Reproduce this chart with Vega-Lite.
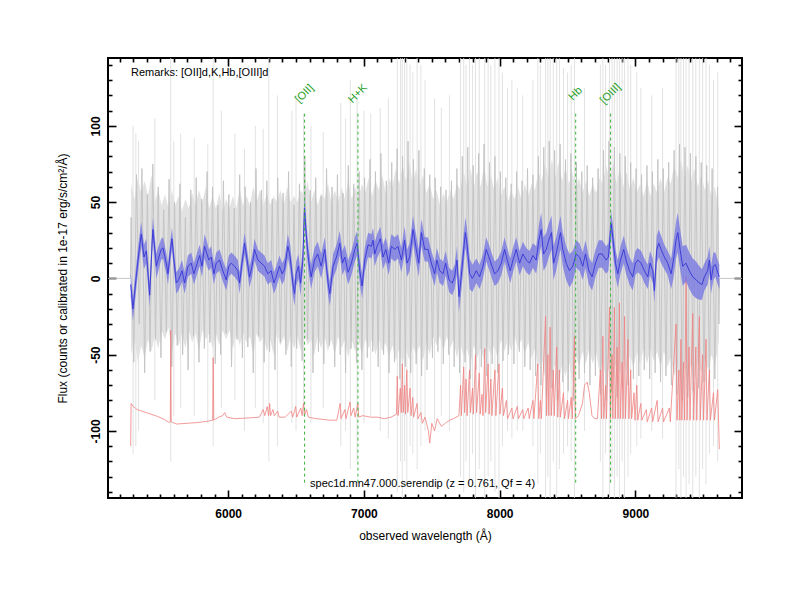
{
  "$schema": "https://vega.github.io/schema/vega-lite/v6.json",
  "width": 634,
  "height": 440,
  "autosize": "none",
  "padding": {"left": 108, "top": 58, "right": 58, "bottom": 102},
  "background": "white",
  "config": {
    "font": "Liberation Sans",
    "view": {"stroke": "#000000", "strokeWidth": 2},
    "axis": {"grid": false, "domain": false}
  },
  "datasets": {
    "raw": [
      {"w":5115,"f":0},{"w":5280,"f":0},
      {"w":5285,"f":40},{"w":5305,"f":-55},{"w":5325,"f":68},{"w":5345,"f":-30},{"w":5365,"f":72},{"w":5385,"f":-62},{"w":5405,"f":55},{"w":5425,"f":-48},{"w":5445,"f":75},{"w":5465,"f":-40},{"w":5485,"f":60},
      {"w":5505,"f":-52},{"w":5525,"f":45},{"w":5545,"f":-35},{"w":5565,"f":65},{"w":5585,"f":-58},{"w":5605,"f":50},{"w":5625,"f":-44},{"w":5645,"f":62},{"w":5665,"f":-50},{"w":5685,"f":40},{"w":5705,"f":-60},{"w":5725,"f":58},{"w":5745,"f":-38},{"w":5765,"f":66},{"w":5785,"f":-55},{"w":5805,"f":52},{"w":5825,"f":-46},{"w":5845,"f":70},{"w":5865,"f":-42},{"w":5885,"f":60},{"w":5905,"f":-56},{"w":5925,"f":48},{"w":5945,"f":-50},{"w":5965,"f":64},{"w":5985,"f":-36},
      {"w":6005,"f":55},{"w":6025,"f":-58},{"w":6045,"f":46},{"w":6065,"f":-40},{"w":6085,"f":68},{"w":6105,"f":-52},{"w":6125,"f":60},{"w":6145,"f":-45},{"w":6165,"f":50},{"w":6185,"f":-62},{"w":6205,"f":72},{"w":6225,"f":-38},{"w":6245,"f":58},{"w":6265,"f":-55},{"w":6285,"f":64},{"w":6305,"f":-48},{"w":6325,"f":52},{"w":6345,"f":-60},{"w":6365,"f":66},{"w":6385,"f":-42},{"w":6405,"f":56},{"w":6425,"f":-50},{"w":6445,"f":70},{"w":6465,"f":-58},{"w":6485,"f":48},
      {"w":6505,"f":-46},{"w":6525,"f":62},{"w":6545,"f":-54},{"w":6565,"f":80},{"w":6585,"f":-40},{"w":6605,"f":58},{"w":6625,"f":-62},{"w":6645,"f":66},{"w":6665,"f":-48},{"w":6685,"f":54},{"w":6705,"f":-56},{"w":6725,"f":72},{"w":6745,"f":-44},{"w":6765,"f":60},{"w":6785,"f":-58},{"w":6805,"f":68},{"w":6825,"f":-50},{"w":6845,"f":56},{"w":6865,"f":-62},{"w":6885,"f":74},{"w":6905,"f":-46},{"w":6925,"f":62},{"w":6945,"f":-55},{"w":6965,"f":70},{"w":6985,"f":-60},
      {"w":7005,"f":66},{"w":7025,"f":-52},{"w":7045,"f":78},{"w":7065,"f":-48},{"w":7085,"f":70},{"w":7105,"f":-58},{"w":7125,"f":82},{"w":7145,"f":-50},{"w":7165,"f":64},{"w":7185,"f":-62},{"w":7205,"f":76},{"w":7225,"f":-55},{"w":7245,"f":85},{"w":7265,"f":-66},{"w":7285,"f":80},{"w":7305,"f":-58},{"w":7325,"f":90},{"w":7345,"f":-62},{"w":7365,"f":78},{"w":7385,"f":-56},{"w":7405,"f":84},{"w":7425,"f":-64},{"w":7445,"f":72},{"w":7465,"f":-60},{"w":7485,"f":68},
      {"w":7505,"f":-52},{"w":7525,"f":66},{"w":7545,"f":-48},{"w":7565,"f":60},{"w":7585,"f":-56},{"w":7605,"f":58},{"w":7625,"f":-50},{"w":7645,"f":64},{"w":7665,"f":-58},{"w":7685,"f":72},{"w":7705,"f":-62},{"w":7725,"f":80},{"w":7745,"f":-55},{"w":7765,"f":86},{"w":7785,"f":-66},{"w":7805,"f":74},{"w":7825,"f":-60},{"w":7845,"f":82},{"w":7865,"f":-58},{"w":7885,"f":88},{"w":7905,"f":-64},{"w":7925,"f":76},{"w":7945,"f":-56},{"w":7965,"f":80},{"w":7985,"f":-62},
      {"w":8005,"f":70},{"w":8025,"f":-54},{"w":8045,"f":66},{"w":8065,"f":-50},{"w":8085,"f":62},{"w":8105,"f":-56},{"w":8125,"f":70},{"w":8145,"f":-48},{"w":8165,"f":64},{"w":8185,"f":-58},{"w":8205,"f":72},{"w":8225,"f":-60},{"w":8245,"f":68},{"w":8265,"f":-64},{"w":8285,"f":80},{"w":8305,"f":-70},{"w":8325,"f":86},{"w":8345,"f":-78},{"w":8365,"f":90},{"w":8385,"f":-72},{"w":8405,"f":84},{"w":8425,"f":-80},{"w":8445,"f":88},{"w":8465,"f":-68},{"w":8485,"f":78},
      {"w":8505,"f":-74},{"w":8525,"f":82},{"w":8545,"f":-80},{"w":8565,"f":76},{"w":8585,"f":-66},{"w":8605,"f":70},{"w":8625,"f":-62},{"w":8645,"f":74},{"w":8665,"f":-70},{"w":8685,"f":66},{"w":8705,"f":-64},{"w":8725,"f":72},{"w":8745,"f":-76},{"w":8765,"f":84},{"w":8785,"f":-80},{"w":8805,"f":90},{"w":8825,"f":-74},{"w":8845,"f":86},{"w":8865,"f":-78},{"w":8885,"f":82},{"w":8905,"f":-72},{"w":8925,"f":80},{"w":8945,"f":-70},{"w":8965,"f":76},{"w":8985,"f":-66},
      {"w":9005,"f":72},{"w":9025,"f":-64},{"w":9045,"f":68},{"w":9065,"f":-60},{"w":9085,"f":74},{"w":9105,"f":-66},{"w":9125,"f":70},{"w":9145,"f":-62},{"w":9165,"f":78},{"w":9185,"f":-68},{"w":9205,"f":72},{"w":9225,"f":-64},{"w":9245,"f":76},{"w":9265,"f":-70},{"w":9285,"f":84},{"w":9305,"f":-76},{"w":9325,"f":88},{"w":9345,"f":-80},{"w":9365,"f":86},{"w":9385,"f":-78},{"w":9405,"f":82},{"w":9425,"f":-74},{"w":9445,"f":80},{"w":9465,"f":-72},{"w":9485,"f":76},{"w":9505,"f":-68},{"w":9525,"f":74},{"w":9545,"f":-70},{"w":9565,"f":72},{"w":9585,"f":-66},{"w":9605,"f":60},{"w":9615,"f":-30},
      {"w":9620,"f":0},{"w":9785,"f":0}
    ],
    "core": [
      {"w":5285,"lo":-50,"hi":62},{"w":5310,"lo":-40,"hi":52},{"w":5335,"lo":-55,"hi":66},{"w":5360,"lo":-44,"hi":56},{"w":5385,"lo":-52,"hi":64},{"w":5410,"lo":-40,"hi":54},{"w":5435,"lo":-48,"hi":68},{"w":5460,"lo":-38,"hi":50},{"w":5485,"lo":-46,"hi":58},{"w":5510,"lo":-34,"hi":48},{"w":5535,"lo":-40,"hi":55},{"w":5560,"lo":-32,"hi":46},{"w":5585,"lo":-48,"hi":58},{"w":5610,"lo":-36,"hi":48},{"w":5635,"lo":-44,"hi":54},{"w":5660,"lo":-36,"hi":44},{"w":5685,"lo":-46,"hi":52},{"w":5710,"lo":-34,"hi":46},{"w":5735,"lo":-42,"hi":56},{"w":5760,"lo":-36,"hi":48},{"w":5785,"lo":-48,"hi":58},{"w":5810,"lo":-34,"hi":50},{"w":5835,"lo":-40,"hi":60},{"w":5860,"lo":-36,"hi":46},{"w":5885,"lo":-46,"hi":54},{"w":5910,"lo":-36,"hi":46},{"w":5935,"lo":-44,"hi":56},{"w":5960,"lo":-34,"hi":44},{"w":5985,"lo":-40,"hi":52},
      {"w":6010,"lo":-34,"hi":46},{"w":6035,"lo":-46,"hi":54},{"w":6060,"lo":-36,"hi":46},{"w":6085,"lo":-44,"hi":58},{"w":6110,"lo":-36,"hi":48},{"w":6135,"lo":-42,"hi":54},{"w":6160,"lo":-38,"hi":48},{"w":6185,"lo":-50,"hi":60},{"w":6210,"lo":-36,"hi":50},{"w":6235,"lo":-42,"hi":58},{"w":6260,"lo":-38,"hi":48},{"w":6285,"lo":-48,"hi":56},{"w":6310,"lo":-40,"hi":48},{"w":6335,"lo":-50,"hi":54},{"w":6360,"lo":-36,"hi":50},{"w":6385,"lo":-44,"hi":58},{"w":6410,"lo":-38,"hi":48},{"w":6435,"lo":-48,"hi":60},{"w":6460,"lo":-38,"hi":50},{"w":6485,"lo":-46,"hi":54},{"w":6510,"lo":-38,"hi":50},{"w":6535,"lo":-48,"hi":58},{"w":6560,"lo":-36,"hi":54},{"w":6585,"lo":-44,"hi":64},{"w":6610,"lo":-40,"hi":50},{"w":6635,"lo":-50,"hi":58},{"w":6660,"lo":-38,"hi":48},{"w":6685,"lo":-46,"hi":56},{"w":6710,"lo":-38,"hi":52},{"w":6735,"lo":-48,"hi":62},{"w":6760,"lo":-40,"hi":50},{"w":6785,"lo":-50,"hi":58},{"w":6810,"lo":-38,"hi":50},{"w":6835,"lo":-46,"hi":60},{"w":6860,"lo":-40,"hi":52},{"w":6885,"lo":-52,"hi":64},{"w":6910,"lo":-40,"hi":52},{"w":6935,"lo":-48,"hi":60},{"w":6960,"lo":-40,"hi":52},{"w":6985,"lo":-50,"hi":62},
      {"w":7010,"lo":-40,"hi":56},{"w":7035,"lo":-46,"hi":66},{"w":7060,"lo":-40,"hi":54},{"w":7085,"lo":-50,"hi":64},{"w":7110,"lo":-40,"hi":58},{"w":7135,"lo":-48,"hi":68},{"w":7160,"lo":-42,"hi":56},{"w":7185,"lo":-52,"hi":66},{"w":7210,"lo":-44,"hi":60},{"w":7235,"lo":-54,"hi":72},{"w":7260,"lo":-46,"hi":62},{"w":7285,"lo":-56,"hi":74},{"w":7310,"lo":-46,"hi":64},{"w":7335,"lo":-54,"hi":76},{"w":7360,"lo":-44,"hi":62},{"w":7385,"lo":-50,"hi":72},{"w":7410,"lo":-44,"hi":60},{"w":7435,"lo":-54,"hi":68},{"w":7460,"lo":-42,"hi":56},{"w":7485,"lo":-50,"hi":62},{"w":7510,"lo":-38,"hi":52},{"w":7535,"lo":-44,"hi":58},{"w":7560,"lo":-38,"hi":48},{"w":7585,"lo":-48,"hi":56},{"w":7610,"lo":-38,"hi":50},{"w":7635,"lo":-46,"hi":58},{"w":7660,"lo":-40,"hi":52},{"w":7685,"lo":-52,"hi":62},{"w":7710,"lo":-42,"hi":58},{"w":7735,"lo":-52,"hi":70},{"w":7760,"lo":-46,"hi":60},{"w":7785,"lo":-56,"hi":72},{"w":7810,"lo":-44,"hi":60},{"w":7835,"lo":-52,"hi":70},{"w":7860,"lo":-46,"hi":60},{"w":7885,"lo":-54,"hi":74},{"w":7910,"lo":-44,"hi":60},{"w":7935,"lo":-50,"hi":68},{"w":7960,"lo":-44,"hi":58},{"w":7985,"lo":-52,"hi":66},
      {"w":8010,"lo":-40,"hi":54},{"w":8035,"lo":-48,"hi":60},{"w":8060,"lo":-40,"hi":50},{"w":8085,"lo":-48,"hi":58},{"w":8110,"lo":-38,"hi":52},{"w":8135,"lo":-46,"hi":60},{"w":8160,"lo":-40,"hi":52},{"w":8185,"lo":-50,"hi":62},{"w":8210,"lo":-42,"hi":54},{"w":8235,"lo":-52,"hi":62},{"w":8260,"lo":-46,"hi":58},{"w":8285,"lo":-58,"hi":70},{"w":8310,"lo":-52,"hi":64},{"w":8335,"lo":-66,"hi":76},{"w":8360,"lo":-54,"hi":66},{"w":8385,"lo":-64,"hi":78},{"w":8410,"lo":-56,"hi":66},{"w":8435,"lo":-70,"hi":76},{"w":8460,"lo":-56,"hi":64},{"w":8485,"lo":-64,"hi":72},{"w":8510,"lo":-54,"hi":62},{"w":8535,"lo":-68,"hi":70},{"w":8560,"lo":-50,"hi":58},{"w":8585,"lo":-58,"hi":66},{"w":8610,"lo":-48,"hi":56},{"w":8635,"lo":-56,"hi":64},{"w":8660,"lo":-46,"hi":54},{"w":8685,"lo":-56,"hi":62},{"w":8710,"lo":-48,"hi":56},{"w":8735,"lo":-62,"hi":66},{"w":8760,"lo":-54,"hi":62},{"w":8785,"lo":-68,"hi":74},{"w":8810,"lo":-56,"hi":64},{"w":8835,"lo":-66,"hi":76},{"w":8860,"lo":-54,"hi":62},{"w":8885,"lo":-64,"hi":72},{"w":8910,"lo":-52,"hi":60},{"w":8935,"lo":-62,"hi":70},{"w":8960,"lo":-50,"hi":58},{"w":8985,"lo":-58,"hi":66},
      {"w":9010,"lo":-48,"hi":56},{"w":9035,"lo":-56,"hi":62},{"w":9060,"lo":-46,"hi":54},{"w":9085,"lo":-56,"hi":64},{"w":9110,"lo":-46,"hi":54},{"w":9135,"lo":-54,"hi":62},{"w":9160,"lo":-48,"hi":56},{"w":9185,"lo":-58,"hi":66},{"w":9210,"lo":-48,"hi":56},{"w":9235,"lo":-58,"hi":66},{"w":9260,"lo":-52,"hi":62},{"w":9285,"lo":-64,"hi":74},{"w":9310,"lo":-58,"hi":66},{"w":9335,"lo":-70,"hi":78},{"w":9360,"lo":-58,"hi":66},{"w":9385,"lo":-68,"hi":74},{"w":9410,"lo":-56,"hi":64},{"w":9435,"lo":-66,"hi":72},{"w":9460,"lo":-54,"hi":60},{"w":9485,"lo":-62,"hi":68},{"w":9510,"lo":-52,"hi":58},{"w":9535,"lo":-60,"hi":64},{"w":9560,"lo":-50,"hi":54},{"w":9585,"lo":-58,"hi":60},{"w":9615,"lo":-40,"hi":45}
    ],
    "spikes": [
      {"w":5300,"lo":-115,"hi":100},{"w":5320,"lo":-110,"hi":95},{"w":5340,"lo":-100,"hi":90},{"w":5460,"lo":-80,"hi":105},{"w":5577,"lo":-120,"hi":150},{"w":5600,"lo":-90,"hi":90},{"w":5650,"lo":-85,"hi":95},{"w":5750,"lo":-90,"hi":92},{"w":5850,"lo":-95,"hi":88},{"w":5890,"lo":-110,"hi":150},{"w":5950,"lo":-85,"hi":110},
      {"w":6050,"lo":-80,"hi":95},{"w":6120,"lo":-100,"hi":85},{"w":6200,"lo":-85,"hi":100},{"w":6258,"lo":-95,"hi":98},{"w":6300,"lo":-120,"hi":150},{"w":6363,"lo":-110,"hi":120},{"w":6470,"lo":-95,"hi":110},{"w":6500,"lo":-100,"hi":120},{"w":6555,"lo":-90,"hi":108},{"w":6610,"lo":-95,"hi":100},{"w":6700,"lo":-85,"hi":96},{"w":6830,"lo":-110,"hi":115},{"w":6865,"lo":-100,"hi":105},{"w":6900,"lo":-125,"hi":130},{"w":6950,"lo":-120,"hi":118},
      {"w":7000,"lo":-95,"hi":110},{"w":7050,"lo":-90,"hi":108},{"w":7120,"lo":-100,"hi":112},{"w":7180,"lo":-105,"hi":118},{"w":7246,"lo":-140,"hi":150},{"w":7270,"lo":-120,"hi":150},{"w":7283,"lo":-144,"hi":150},{"w":7300,"lo":-120,"hi":150},{"w":7316,"lo":-135,"hi":150},{"w":7340,"lo":-110,"hi":140},{"w":7360,"lo":-115,"hi":135},{"w":7392,"lo":-125,"hi":150},{"w":7420,"lo":-110,"hi":140},{"w":7450,"lo":-100,"hi":130},{"w":7520,"lo":-95,"hi":118},{"w":7570,"lo":-90,"hi":112},{"w":7630,"lo":-100,"hi":120},
      {"w":7712,"lo":-130,"hi":150},{"w":7735,"lo":-140,"hi":150},{"w":7752,"lo":-120,"hi":140},{"w":7778,"lo":-135,"hi":150},{"w":7800,"lo":-115,"hi":140},{"w":7822,"lo":-144,"hi":150},{"w":7850,"lo":-125,"hi":150},{"w":7890,"lo":-144,"hi":150},{"w":7915,"lo":-130,"hi":150},{"w":7935,"lo":-120,"hi":140},{"w":7965,"lo":-140,"hi":150},{"w":7995,"lo":-144,"hi":150},
      {"w":8020,"lo":-110,"hi":135},{"w":8058,"lo":-100,"hi":125},{"w":8090,"lo":-105,"hi":130},{"w":8130,"lo":-100,"hi":125},{"w":8170,"lo":-100,"hi":120},{"w":8245,"lo":-110,"hi":130},{"w":8281,"lo":-135,"hi":150},{"w":8300,"lo":-115,"hi":140},{"w":8338,"lo":-144,"hi":150},{"w":8355,"lo":-130,"hi":150},{"w":8372,"lo":-144,"hi":150},{"w":8395,"lo":-120,"hi":150},{"w":8420,"lo":-144,"hi":150},{"w":8440,"lo":-125,"hi":145},{"w":8470,"lo":-115,"hi":138},{"w":8500,"lo":-110,"hi":135},{"w":8527,"lo":-120,"hi":140},{"w":8551,"lo":-144,"hi":150},{"w":8625,"lo":-100,"hi":125},
      {"w":8742,"lo":-120,"hi":140},{"w":8760,"lo":-144,"hi":150},{"w":8780,"lo":-115,"hi":140},{"w":8809,"lo":-144,"hi":150},{"w":8828,"lo":-130,"hi":150},{"w":8845,"lo":-144,"hi":150},{"w":8865,"lo":-130,"hi":150},{"w":8882,"lo":-144,"hi":150},{"w":8902,"lo":-120,"hi":150},{"w":8920,"lo":-144,"hi":150},{"w":8945,"lo":-130,"hi":145},{"w":8965,"lo":-115,"hi":140},
      {"w":9010,"lo":-110,"hi":135},{"w":9040,"lo":-105,"hi":125},{"w":9120,"lo":-100,"hi":120},{"w":9200,"lo":-105,"hi":125},{"w":9299,"lo":-144,"hi":150},{"w":9320,"lo":-125,"hi":150},{"w":9335,"lo":-144,"hi":150},{"w":9355,"lo":-130,"hi":150},{"w":9373,"lo":-144,"hi":150},{"w":9395,"lo":-135,"hi":150},{"w":9422,"lo":-144,"hi":150},{"w":9445,"lo":-130,"hi":150},{"w":9471,"lo":-144,"hi":150},{"w":9495,"lo":-125,"hi":145},{"w":9520,"lo":-135,"hi":150},{"w":9545,"lo":-115,"hi":140},{"w":9575,"lo":-110,"hi":130},{"w":9606,"lo":-120,"hi":135}
    ],
    "sky": [
      {"w":5282,"f":-110},{"w":5285,"f":-82},{"w":5300,"f":-84},{"w":5330,"f":-86},{"w":5380,"f":-87.5},{"w":5430,"f":-89},{"w":5480,"f":-90.5},{"w":5530,"f":-92.5},{"w":5565,"f":-94.5},{"w":5574,"f":-94},{"w":5577,"f":-34},{"w":5580,"f":-94},{"w":5620,"f":-95.5},{"w":5700,"f":-95},{"w":5780,"f":-94.5},{"w":5860,"f":-93.5},{"w":5886,"f":-93},{"w":5890,"f":-52},{"w":5894,"f":-93},{"w":5930,"f":-91},{"w":5960,"f":-90},{"w":5975,"f":-88},{"w":5990,"f":-91},
      {"w":6050,"f":-92},{"w":6150,"f":-91.5},{"w":6230,"f":-91},{"w":6258,"f":-86},{"w":6270,"f":-90},{"w":6288,"f":-84},{"w":6298,"f":-90},{"w":6306,"f":-82},{"w":6312,"f":-90},{"w":6330,"f":-86},{"w":6340,"f":-90},{"w":6365,"f":-87},{"w":6375,"f":-91},{"w":6420,"f":-91},{"w":6465,"f":-87},{"w":6475,"f":-91},{"w":6498,"f":-84},{"w":6505,"f":-91},{"w":6535,"f":-85},{"w":6545,"f":-90},{"w":6555,"f":-82},{"w":6565,"f":-89},{"w":6578,"f":-86},{"w":6590,"f":-91},{"w":6650,"f":-92},{"w":6750,"f":-93},{"w":6800,"f":-93},{"w":6825,"f":-82},{"w":6832,"f":-92},{"w":6860,"f":-86},{"w":6868,"f":-92},{"w":6898,"f":-81},{"w":6905,"f":-90},{"w":6925,"f":-85},{"w":6935,"f":-91},{"w":6955,"f":-82},{"w":6962,"f":-91},{"w":6990,"f":-90},
      {"w":7050,"f":-91},{"w":7100,"f":-91},{"w":7150,"f":-92},{"w":7200,"f":-91},{"w":7240,"f":-89},{"w":7246,"f":-64},{"w":7252,"f":-90},{"w":7268,"f":-72},{"w":7275,"f":-88},{"w":7283,"f":-56},{"w":7290,"f":-88},{"w":7300,"f":-70},{"w":7306,"f":-89},{"w":7316,"f":-60},{"w":7323,"f":-88},{"w":7340,"f":-72},{"w":7347,"f":-90},{"w":7360,"f":-78},{"w":7366,"f":-91},{"w":7392,"f":-82},{"w":7398,"f":-92},{"w":7420,"f":-88},{"w":7430,"f":-95},{"w":7450,"f":-91},{"w":7475,"f":-100},{"w":7485,"f":-108},{"w":7500,"f":-95},{"w":7520,"f":-100},{"w":7540,"f":-92},{"w":7570,"f":-97},{"w":7600,"f":-95},{"w":7630,"f":-93},{"w":7660,"f":-92},{"w":7700,"f":-90},
      {"w":7712,"f":-70},{"w":7718,"f":-90},{"w":7735,"f":-58},{"w":7742,"f":-88},{"w":7752,"f":-66},{"w":7760,"f":-90},{"w":7778,"f":-60},{"w":7785,"f":-88},{"w":7800,"f":-72},{"w":7806,"f":-89},{"w":7822,"f":-50},{"w":7830,"f":-88},{"w":7850,"f":-62},{"w":7856,"f":-89},{"w":7870,"f":-76},{"w":7877,"f":-90},{"w":7890,"f":-46},{"w":7897,"f":-88},{"w":7915,"f":-56},{"w":7922,"f":-89},{"w":7935,"f":-66},{"w":7943,"f":-90},{"w":7965,"f":-60},{"w":7972,"f":-90},{"w":7995,"f":-56},{"w":8002,"f":-89},{"w":8020,"f":-72},{"w":8028,"f":-90},{"w":8050,"f":-80},{"w":8058,"f":-92},{"w":8090,"f":-85},{"w":8098,"f":-92},{"w":8130,"f":-84},{"w":8138,"f":-92},{"w":8170,"f":-86},{"w":8178,"f":-92},{"w":8210,"f":-85},{"w":8218,"f":-92},{"w":8245,"f":-80},{"w":8252,"f":-92},
      {"w":8281,"f":-56},{"w":8288,"f":-92},{"w":8300,"f":-80},{"w":8307,"f":-92},{"w":8338,"f":-25},{"w":8345,"f":-90},{"w":8355,"f":-50},{"w":8362,"f":-90},{"w":8372,"f":-32},{"w":8380,"f":-90},{"w":8395,"f":-60},{"w":8402,"f":-90},{"w":8420,"f":-45},{"w":8428,"f":-91},{"w":8440,"f":-60},{"w":8447,"f":-91},{"w":8470,"f":-75},{"w":8478,"f":-92},{"w":8500,"f":-80},{"w":8507,"f":-92},{"w":8527,"f":-78},{"w":8535,"f":-92},{"w":8551,"f":-38},{"w":8558,"f":-92},{"w":8580,"f":-90},{"w":8610,"f":-82},{"w":8625,"f":-70},{"w":8645,"f":-68},{"w":8660,"f":-75},{"w":8680,"f":-90},{"w":8700,"f":-92},{"w":8720,"f":-92},
      {"w":8742,"f":-60},{"w":8750,"f":-92},{"w":8760,"f":-38},{"w":8767,"f":-92},{"w":8780,"f":-70},{"w":8787,"f":-92},{"w":8809,"f":-19},{"w":8816,"f":-92},{"w":8828,"f":-50},{"w":8834,"f":-92},{"w":8845,"f":-19},{"w":8852,"f":-92},{"w":8865,"f":-45},{"w":8872,"f":-92},{"w":8882,"f":-16},{"w":8889,"f":-92},{"w":8902,"f":-55},{"w":8909,"f":-92},{"w":8920,"f":-25},{"w":8927,"f":-92},{"w":8945,"f":-40},{"w":8952,"f":-92},{"w":8965,"f":-60},{"w":8972,"f":-92},{"w":8990,"f":-75},{"w":8997,"f":-93},
      {"w":9010,"f":-70},{"w":9017,"f":-93},{"w":9040,"f":-82},{"w":9047,"f":-93},{"w":9080,"f":-86},{"w":9087,"f":-94},{"w":9120,"f":-85},{"w":9127,"f":-94},{"w":9160,"f":-80},{"w":9167,"f":-94},{"w":9200,"f":-85},{"w":9207,"f":-94},{"w":9250,"f":-85},{"w":9257,"f":-94},{"w":9299,"f":-30},{"w":9306,"f":-93},{"w":9320,"f":-60},{"w":9327,"f":-93},{"w":9335,"f":-40},{"w":9342,"f":-93},{"w":9355,"f":-55},{"w":9362,"f":-93},{"w":9373,"f":1},{"w":9380,"f":-93},{"w":9395,"f":-45},{"w":9402,"f":-93},{"w":9422,"f":-23},{"w":9429,"f":-93},{"w":9445,"f":-45},{"w":9452,"f":-93},{"w":9471,"f":-25},{"w":9478,"f":-93},{"w":9495,"f":-50},{"w":9502,"f":-93},{"w":9520,"f":-40},{"w":9527,"f":-93},{"w":9545,"f":-60},{"w":9552,"f":-93},{"w":9575,"f":-75},{"w":9582,"f":-93},{"w":9606,"f":-73},{"w":9613,"f":-95},{"w":9618,"f":-112}
    ],
    "blue": [
      {"w":5282,"f":-4,"e":8},{"w":5299,"f":-20,"e":8},{"w":5331,"f":8,"e":8},{"w":5348,"f":21,"e":8},{"w":5360,"f":29,"e":8},{"w":5380,"f":14,"e":8},{"w":5397,"f":18,"e":8},{"w":5422,"f":-11,"e":8},{"w":5441,"f":25,"e":8},{"w":5446,"f":32,"e":8},{"w":5471,"f":8,"e":8},{"w":5483,"f":12,"e":8},{"w":5507,"f":19,"e":7},{"w":5520,"f":20,"e":7},{"w":5544,"f":10,"e":7},{"w":5557,"f":3,"e":7},{"w":5576,"f":19,"e":7},{"w":5586,"f":26,"e":7},{"w":5601,"f":12,"e":7},{"w":5618,"f":-3,"e":7},{"w":5635,"f":-1,"e":7},{"w":5660,"f":5,"e":7},{"w":5679,"f":-3,"e":7},{"w":5704,"f":8,"e":7},{"w":5728,"f":10,"e":7},{"w":5748,"f":3,"e":7},{"w":5772,"f":10,"e":7},{"w":5790,"f":15,"e":7},{"w":5807,"f":8,"e":7},{"w":5826,"f":21,"e":8},{"w":5844,"f":16,"e":8},{"w":5858,"f":12,"e":7},{"w":5875,"f":14,"e":7},{"w":5895,"f":3,"e":7},{"w":5912,"f":10,"e":7},{"w":5937,"f":12,"e":7},{"w":5961,"f":5,"e":7},{"w":5986,"f":-1,"e":7},
      {"w":6005,"f":8,"e":7},{"w":6023,"f":10,"e":7},{"w":6047,"f":8,"e":7},{"w":6072,"f":5,"e":7},{"w":6084,"f":-3,"e":7},{"w":6108,"f":14,"e":7},{"w":6121,"f":23,"e":7},{"w":6140,"f":12,"e":7},{"w":6157,"f":1,"e":7},{"w":6177,"f":8,"e":7},{"w":6194,"f":19,"e":7},{"w":6219,"f":12,"e":7},{"w":6243,"f":10,"e":7},{"w":6268,"f":8,"e":7},{"w":6292,"f":3,"e":7},{"w":6317,"f":5,"e":7},{"w":6337,"f":-3,"e":7},{"w":6354,"f":1,"e":7},{"w":6378,"f":8,"e":7},{"w":6398,"f":3,"e":7},{"w":6415,"f":6,"e":7},{"w":6440,"f":21,"e":8},{"w":6457,"f":14,"e":8},{"w":6476,"f":-3,"e":8},{"w":6489,"f":-10,"e":8},{"w":6501,"f":3,"e":8},{"w":6518,"f":8,"e":8},{"w":6533,"f":-3,"e":8},{"w":6550,"f":12,"e":8},{"w":6562,"f":46,"e":9},{"w":6575,"f":29,"e":9},{"w":6592,"f":12,"e":8},{"w":6611,"f":1,"e":8},{"w":6636,"f":12,"e":8},{"w":6660,"f":16,"e":8},{"w":6685,"f":8,"e":8},{"w":6712,"f":19,"e":8},{"w":6736,"f":-3,"e":8},{"w":6749,"f":-10,"e":8},{"w":6773,"f":8,"e":8},{"w":6798,"f":14,"e":8},{"w":6822,"f":23,"e":8},{"w":6842,"f":10,"e":8},{"w":6859,"f":14,"e":8},{"w":6884,"f":4,"e":8},{"w":6908,"f":10,"e":8},{"w":6933,"f":19,"e":8},{"w":6950,"f":23,"e":8},{"w":6969,"f":5,"e":8},{"w":6987,"f":-5,"e":8},
      {"w":7006,"f":12,"e":8},{"w":7031,"f":22,"e":8},{"w":7055,"f":21,"e":8},{"w":7067,"f":25,"e":8},{"w":7080,"f":16,"e":8},{"w":7097,"f":21,"e":8},{"w":7121,"f":26,"e":8},{"w":7141,"f":14,"e":8},{"w":7161,"f":19,"e":8},{"w":7183,"f":10,"e":8},{"w":7202,"f":21,"e":8},{"w":7227,"f":19,"e":8},{"w":7251,"f":21,"e":8},{"w":7276,"f":12,"e":8},{"w":7300,"f":25,"e":9},{"w":7318,"f":10,"e":9},{"w":7337,"f":14,"e":9},{"w":7362,"f":32,"e":9},{"w":7386,"f":19,"e":9},{"w":7404,"f":10,"e":9},{"w":7423,"f":30,"e":9},{"w":7448,"f":19,"e":8},{"w":7472,"f":19,"e":8},{"w":7497,"f":10,"e":8},{"w":7521,"f":3,"e":8},{"w":7538,"f":12,"e":8},{"w":7558,"f":5,"e":8},{"w":7583,"f":3,"e":8},{"w":7602,"f":10,"e":8},{"w":7627,"f":-1,"e":8},{"w":7651,"f":-3,"e":8},{"w":7668,"f":1,"e":8},{"w":7686,"f":12,"e":9},{"w":7700,"f":-12,"e":10},{"w":7717,"f":1,"e":10},{"w":7735,"f":19,"e":10},{"w":7747,"f":30,"e":10},{"w":7759,"f":23,"e":10},{"w":7779,"f":3,"e":10},{"w":7799,"f":0,"e":9},{"w":7828,"f":5,"e":8},{"w":7852,"f":1,"e":8},{"w":7877,"f":8,"e":8},{"w":7901,"f":19,"e":8},{"w":7921,"f":14,"e":8},{"w":7943,"f":8,"e":8},{"w":7963,"f":3,"e":8},{"w":7987,"f":5,"e":8},
      {"w":8012,"f":10,"e":8},{"w":8036,"f":19,"e":8},{"w":8056,"f":12,"e":8},{"w":8078,"f":5,"e":8},{"w":8098,"f":12,"e":8},{"w":8122,"f":19,"e":8},{"w":8147,"f":10,"e":8},{"w":8171,"f":16,"e":8},{"w":8196,"f":12,"e":8},{"w":8220,"f":10,"e":8},{"w":8245,"f":15,"e":8},{"w":8269,"f":12,"e":9},{"w":8289,"f":25,"e":10},{"w":8306,"f":32,"e":11},{"w":8323,"f":16,"e":11},{"w":8343,"f":19,"e":11},{"w":8362,"f":25,"e":11},{"w":8382,"f":30,"e":11},{"w":8397,"f":10,"e":11},{"w":8416,"f":16,"e":11},{"w":8436,"f":25,"e":11},{"w":8448,"f":30,"e":11},{"w":8465,"f":19,"e":11},{"w":8490,"f":10,"e":11},{"w":8514,"f":5,"e":11},{"w":8539,"f":8,"e":10},{"w":8563,"f":16,"e":9},{"w":8588,"f":14,"e":9},{"w":8612,"f":8,"e":9},{"w":8632,"f":16,"e":9},{"w":8657,"f":5,"e":9},{"w":8681,"f":1,"e":9},{"w":8706,"f":10,"e":9},{"w":8730,"f":16,"e":9},{"w":8755,"f":16,"e":9},{"w":8784,"f":12,"e":9},{"w":8801,"f":14,"e":9},{"w":8821,"f":36,"e":8},{"w":8833,"f":27,"e":9},{"w":8853,"f":10,"e":9},{"w":8870,"f":3,"e":9},{"w":8890,"f":12,"e":9},{"w":8914,"f":19,"e":9},{"w":8931,"f":12,"e":9},{"w":8956,"f":5,"e":9},{"w":8980,"f":1,"e":9},
      {"w":9000,"f":10,"e":8},{"w":9017,"f":12,"e":8},{"w":9042,"f":10,"e":8},{"w":9066,"f":5,"e":8},{"w":9091,"f":1,"e":8},{"w":9108,"f":10,"e":8},{"w":9128,"f":5,"e":8},{"w":9140,"f":-8,"e":8},{"w":9157,"f":19,"e":9},{"w":9172,"f":23,"e":9},{"w":9189,"f":19,"e":9},{"w":9213,"f":14,"e":8},{"w":9238,"f":10,"e":8},{"w":9263,"f":3,"e":10},{"w":9280,"f":12,"e":12},{"w":9299,"f":25,"e":12},{"w":9312,"f":30,"e":13},{"w":9329,"f":19,"e":13},{"w":9348,"f":8,"e":13},{"w":9373,"f":10,"e":12},{"w":9397,"f":5,"e":12},{"w":9422,"f":1,"e":12},{"w":9447,"f":-1,"e":12},{"w":9471,"f":-3,"e":11},{"w":9491,"f":-4,"e":10},{"w":9508,"f":1,"e":9},{"w":9532,"f":5,"e":9},{"w":9545,"f":12,"e":9},{"w":9557,"f":-1,"e":9},{"w":9574,"f":8,"e":9},{"w":9589,"f":9,"e":8},{"w":9606,"f":4,"e":8},{"w":9618,"f":1,"e":8}
    ],
    "lines": [
      {"w":6563,"name":"[OII]"},{"w":6956,"name":"H+K"},{"w":8560,"name":"Hb"},{"w":8817,"name":"[OIII]"}
    ],
    "notes": [
      {"w":5284,"f":134.5,"t":"Remarks: [OII]d,K,Hb,[OIII]d"},
      {"w":6603,"f":-134.8,"t":"spec1d.mn47.000.serendip (z = 0.761, Qf = 4)"}
    ]
  },
  "resolve": {"axis": {"x": "independent", "y": "independent"}},
  "layer": [
    {
      "data": {"name": "spikes"},
      "mark": {"type": "rule", "color": "#dadada", "strokeWidth": 0.8, "clip": true},
      "encoding": {
        "x": {"field": "w", "type": "quantitative", "scale": {"domain": [5115, 9785], "nice": false, "zero": false},
          "axis": {"orient": "bottom", "values": [6000, 7000, 8000, 9000], "ticks": false, "labelExpr": "'' + datum.value",
            "labelFontSize": 12, "labelFontWeight": "bold", "labelColor": "#000", "labelPadding": 10, "labelFlush": false,
            "title": "observed wavelength (Å)", "titleFontSize": 12, "titleFontWeight": "normal", "titleColor": "#000", "titlePadding": 11}},
        "y": {"field": "lo", "type": "quantitative", "scale": {"domain": [-144, 144.5], "nice": false, "zero": false},
          "axis": {"orient": "left", "values": [-100, -50, 0, 50, 100], "ticks": false, "labelExpr": "'' + datum.value",
            "labelAngle": 270, "labelAlign": "center", "labelBaseline": "bottom",
            "labelFontSize": 12, "labelFontWeight": "bold", "labelColor": "#000", "labelPadding": 6,
            "title": "Flux (counts or calibrated in 1e-17 erg/s/cm²/Å)", "titleFontSize": 12, "titleFontWeight": "normal", "titleColor": "#000", "titlePadding": 20}},
        "y2": {"field": "hi"}
      }
    },
    {
      "data": {"name": "core"},
      "mark": {"type": "area", "color": "#e2e2e2", "opacity": 1, "clip": true},
      "encoding": {
        "x": {"field": "w", "type": "quantitative", "scale": {"domain": [5115, 9785], "nice": false, "zero": false}, "axis": null},
        "y": {"field": "lo", "type": "quantitative", "scale": {"domain": [-144, 144.5], "nice": false, "zero": false}, "axis": null},
        "y2": {"field": "hi"}
      }
    },
    {
      "data": {"name": "raw"},
      "mark": {"type": "line", "color": "#c2c2c2", "strokeWidth": 0.9, "clip": true},
      "encoding": {
        "x": {"field": "w", "type": "quantitative", "scale": {"domain": [5115, 9785], "nice": false, "zero": false},
          "axis": {"orient": "bottom", "values": [5200,5300,5400,5500,5600,5700,5800,5900,6000,6100,6200,6300,6400,6500,6600,6700,6800,6900,7000,7100,7200,7300,7400,7500,7600,7700,7800,7900,8000,8100,8200,8300,8400,8500,8600,8700,8800,8900,9000,9100,9200,9300,9400,9500,9600,9700],
            "labels": false, "title": null, "tickColor": "#000", "tickWidth": 1.6,
            "tickSize": {"condition": {"test": "datum.value % 1000 === 0", "value": -8}, "value": -4}}},
        "y": {"field": "f", "type": "quantitative", "scale": {"domain": [-144, 144.5], "nice": false, "zero": false},
          "axis": {"orient": "left", "values": [-140,-130,-120,-110,-100,-90,-80,-70,-60,-50,-40,-30,-20,-10,0,10,20,30,40,50,60,70,80,90,100,110,120,130,140],
            "labels": false, "title": null, "tickColor": "#000", "tickWidth": 1.6,
            "tickSize": {"condition": {"test": "datum.value % 50 === 0", "value": -8}, "value": -4}}}
      }
    },
    {
      "data": {"name": "sky"},
      "mark": {"type": "line", "color": "#f08080", "strokeWidth": 0.8, "clip": true},
      "encoding": {
        "x": {"field": "w", "type": "quantitative", "scale": {"domain": [5115, 9785], "nice": false, "zero": false}, "axis": null},
        "y": {"field": "f", "type": "quantitative", "scale": {"domain": [-144, 144.5], "nice": false, "zero": false}, "axis": null}
      }
    },
    {
      "data": {"name": "blue"},
      "mark": {"type": "errorband", "band": {"color": "#7272e2", "opacity": 0.75}},
      "encoding": {
        "x": {"field": "w", "type": "quantitative", "scale": {"domain": [5115, 9785], "nice": false, "zero": false}, "axis": null},
        "y": {"field": "f", "type": "quantitative", "scale": {"domain": [-144, 144.5], "nice": false, "zero": false}, "axis": null},
        "yError": {"field": "e"}
      }
    },
    {
      "data": {"name": "blue"},
      "mark": {"type": "line", "color": "#3535d6", "strokeWidth": 0.9, "clip": true},
      "encoding": {
        "x": {"field": "w", "type": "quantitative", "scale": {"domain": [5115, 9785], "nice": false, "zero": false},
          "axis": {"orient": "top", "values": [5200,5300,5400,5500,5600,5700,5800,5900,6000,6100,6200,6300,6400,6500,6600,6700,6800,6900,7000,7100,7200,7300,7400,7500,7600,7700,7800,7900,8000,8100,8200,8300,8400,8500,8600,8700,8800,8900,9000,9100,9200,9300,9400,9500,9600,9700],
            "labels": false, "title": null, "tickColor": "#000", "tickWidth": 1.6,
            "tickSize": {"condition": {"test": "datum.value % 1000 === 0", "value": -8}, "value": -4}}},
        "y": {"field": "f", "type": "quantitative", "scale": {"domain": [-144, 144.5], "nice": false, "zero": false},
          "axis": {"orient": "right", "values": [-140,-130,-120,-110,-100,-90,-80,-70,-60,-50,-40,-30,-20,-10,0,10,20,30,40,50,60,70,80,90,100,110,120,130,140],
            "labels": false, "title": null, "tickColor": "#000", "tickWidth": 1.6,
            "tickSize": {"condition": {"test": "datum.value % 50 === 0", "value": -8}, "value": -4}}}
      }
    },
    {
      "data": {"name": "lines"},
      "mark": {"type": "rule", "color": "#3cb43c", "strokeWidth": 1, "strokeDash": [3, 3]},
      "encoding": {
        "x": {"field": "w", "type": "quantitative", "scale": {"domain": [5115, 9785], "nice": false, "zero": false}, "axis": null},
        "y": {"datum": 108, "type": "quantitative", "scale": {"domain": [-144, 144.5], "nice": false, "zero": false}, "axis": null},
        "y2": {"datum": -134}
      }
    },
    {
      "data": {"name": "lines"},
      "mark": {"type": "text", "color": "#1e9e1e", "fontSize": 11, "angle": 315, "align": "center", "baseline": "middle"},
      "encoding": {
        "x": {"field": "w", "type": "quantitative", "scale": {"domain": [5115, 9785], "nice": false, "zero": false}, "axis": null},
        "y": {"datum": 121, "type": "quantitative", "scale": {"domain": [-144, 144.5], "nice": false, "zero": false}, "axis": null},
        "text": {"field": "name"}
      }
    },
    {
      "data": {"name": "notes"},
      "mark": {"type": "text", "color": "#000", "fontSize": 11, "align": "left", "baseline": "middle"},
      "encoding": {
        "x": {"field": "w", "type": "quantitative", "scale": {"domain": [5115, 9785], "nice": false, "zero": false}, "axis": null},
        "y": {"field": "f", "type": "quantitative", "scale": {"domain": [-144, 144.5], "nice": false, "zero": false}, "axis": null},
        "text": {"field": "t"}
      }
    }
  ]
}
